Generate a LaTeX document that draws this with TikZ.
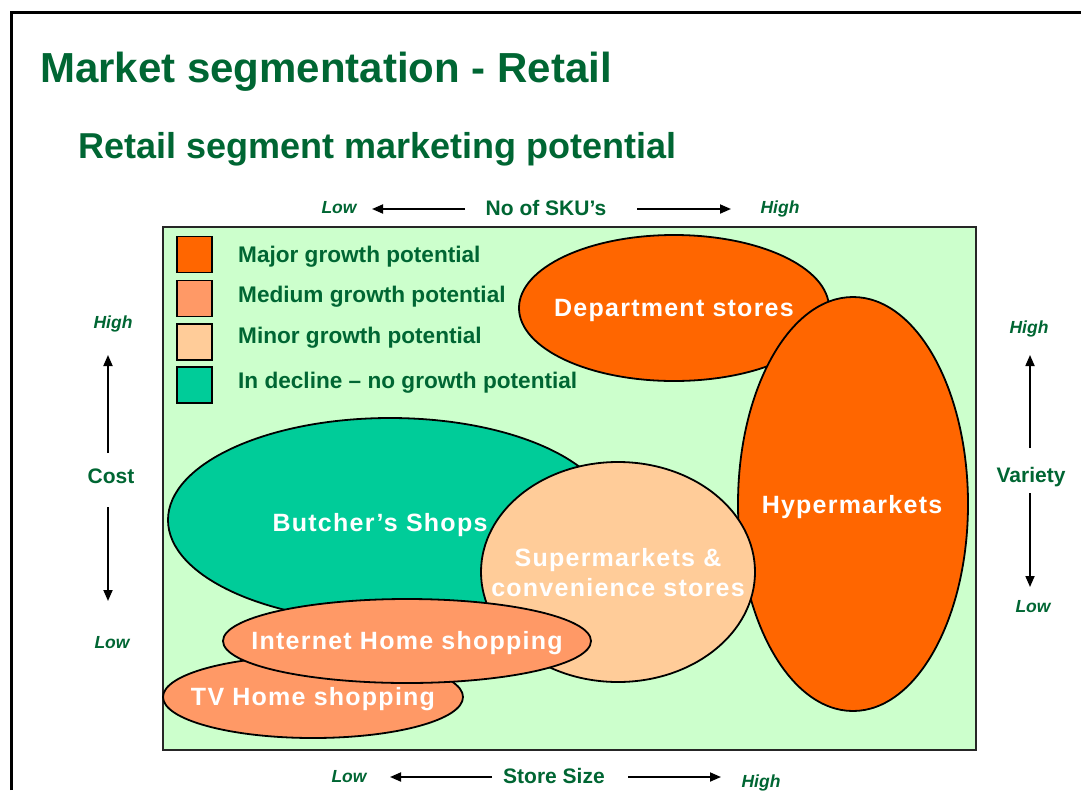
\documentclass[tikz,border=0pt]{standalone}
\usepackage{fontspec}
\setmainfont{Liberation Sans}
\newfontfamily\labelfont{Liberation Sans}[LetterSpace=5]
\usetikzlibrary{shapes.geometric,arrows.meta}
\definecolor{deepgreen}{HTML}{006633}
\definecolor{mint}{HTML}{CCFFCC}
\definecolor{major}{HTML}{FF6600}
\definecolor{medium}{HTML}{FF9966}
\definecolor{minor}{HTML}{FFCC99}
\definecolor{decline}{HTML}{00CC99}

\begin{document}
\begin{tikzpicture}[x=1pt,y=-1pt,
  seg/.style={ellipse, draw=black, line width=1.8pt, inner sep=0pt, outer sep=0pt},
  seglabel/.style={text=white, font=\labelfont\bfseries\fontsize{25}{30}\selectfont, align=center, inner sep=0pt},
  axislabel/.style={text=deepgreen, font=\bfseries\fontsize{21}{25}\selectfont, anchor=base, inner sep=0pt},
  axisend/.style={text=deepgreen, font=\bfseries\itshape\fontsize{17.5}{21}\selectfont, anchor=base, inner sep=0pt},
  legendbox/.style={draw=black, line width=1.5pt, minimum width=35pt, minimum height=36pt, inner sep=0pt},
  legendtext/.style={text=deepgreen, font=\bfseries\fontsize{22.6}{26}\selectfont, anchor=base west, inner sep=0pt},
  axisarrow/.style={line width=1.8pt, -{Triangle[length=11pt,width=9pt]}}
]
\useasboundingbox (0,0) rectangle (1081,790);
\fill[white] (0,0) rectangle (1081,790);

% slide frame
\draw[line width=3pt] (11,790) -- (11,12) -- (1081,12);

% headings
\node[text=deepgreen, font=\bfseries\fontsize{42}{48}\selectfont, anchor=base west, inner sep=0pt]
  (title) at (40,82) {Market segmentation - Retail};
\node[text=deepgreen, font=\bfseries\fontsize{36}{42}\selectfont, anchor=base west, inner sep=0pt]
  (subtitle) at (78,158) {Retail segment marketing potential};

% chart panel
\draw[fill=mint, draw=black!85, line width=2pt] (163,227) rectangle (976,750);

% legend
\node[legendbox, fill=major]   (lg1) at (194.5,254.5) {};
\node[legendbox, fill=medium]  (lg2) at (194.5,298.5) {};
\node[legendbox, fill=minor]   (lg3) at (194.5,342) {};
\node[legendbox, fill=decline] (lg4) at (194.5,385) {};
\node[legendtext] (lt1) at (238,262) {Major growth potential};
\node[legendtext] (lt2) at (238,302) {Medium growth potential};
\node[legendtext] (lt3) at (238,343) {Minor growth potential};
\node[legendtext] (lt4) at (238,388) {In decline -- no growth potential};

% segments, back to front, each followed by its label
\node[seg, fill=major, minimum width=310pt, minimum height=146pt] (dept) at (674,308) {};
\node[seglabel] (deptlbl) at (674,310) {Department stores};
\node[seg, fill=major, minimum width=230pt, minimum height=414pt] (hyper) at (853,504) {};
\node[seglabel] (hyperlbl) at (852,507) {Hypermarkets};
\node[seg, fill=decline, minimum width=444pt, minimum height=204pt] (butcher) at (390,520) {};
\node[seglabel] (butcherlbl) at (380,525) {Butcher’s Shops};
\node[seg, fill=minor, minimum width=274pt, minimum height=220pt] (super) at (618,572) {};
\node[seglabel] (superlbl) at (618,573) {Supermarkets \&\\[0pt]convenience stores};
\node[seg, fill=medium, minimum width=300pt, minimum height=82pt] (tv) at (313,697) {};
\node[seglabel] (tvlbl) at (313,699) {TV Home shopping};
\node[seg, fill=medium, minimum width=368pt, minimum height=84pt] (internet) at (407,641) {};
\node[seglabel] (internetlbl) at (407,643) {Internet Home shopping};

% top axis: number of SKUs
\node[axisend] (skulow) at (339,213) {Low};
\node[axislabel] (sku) at (546,215) {No of SKU’s};
\node[axisend] (skuhigh) at (780,213) {High};
\coordinate (skuLtail) at (465,209);
\coordinate (skuLtip) at (372,209);
\coordinate (skuRtail) at (637,209);
\coordinate (skuRtip) at (731,209);
\draw[axisarrow] (skuLtail) -- (skuLtip);
\draw[axisarrow] (skuRtail) -- (skuRtip);

% bottom axis: store size
\node[axisend] (sizelow) at (349,782) {Low};
\node[axislabel] (size) at (554,783) {Store Size};
\node[axisend] (sizehigh) at (761,787) {High};
\coordinate (sizeLtail) at (492,777);
\coordinate (sizeLtip) at (390,777);
\coordinate (sizeRtail) at (628,777);
\coordinate (sizeRtip) at (721,777);
\draw[axisarrow] (sizeLtail) -- (sizeLtip);
\draw[axisarrow] (sizeRtail) -- (sizeRtip);

% left axis: cost
\node[axisend] (costhigh) at (113,328) {High};
\node[axislabel] (cost) at (111,483) {Cost};
\node[axisend] (costlow) at (112,648) {Low};
\coordinate (costUtail) at (108,453);
\coordinate (costUtip) at (108,355);
\coordinate (costDtail) at (108,507);
\coordinate (costDtip) at (108,601);
\draw[axisarrow] (costUtail) -- (costUtip);
\draw[axisarrow] (costDtail) -- (costDtip);

% right axis: variety
\node[axisend] (varhigh) at (1029,333) {High};
\node[axislabel] (variety) at (1031,482) {Variety};
\node[axisend] (varlow) at (1033,612) {Low};
\coordinate (varUtail) at (1030,448);
\coordinate (varUtip) at (1030,355);
\coordinate (varDtail) at (1030,493);
\coordinate (varDtip) at (1030,587);
\draw[axisarrow] (varUtail) -- (varUtip);
\draw[axisarrow] (varDtail) -- (varDtip);
\end{tikzpicture}
\end{document}
